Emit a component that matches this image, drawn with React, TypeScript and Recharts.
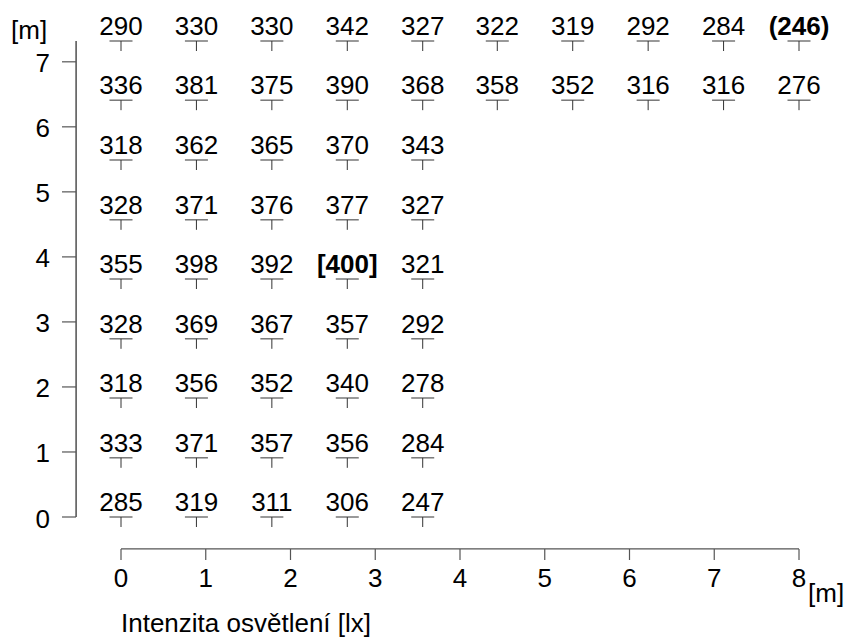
import React from 'react';
import { ScatterChart, Scatter, XAxis, YAxis, ReferenceLine } from 'recharts';

// Grid of measurement points (metres)
const xPositions = [0, 0.89, 1.78, 2.67, 3.56, 4.44, 5.33, 6.22, 7.11, 8.0];
const yPositions = [0, 0.91, 1.83, 2.74, 3.66, 4.57, 5.49, 6.41, 7.32];

// Illuminance values [lx], one array per row from bottom (y=0) to top
const row0 = [285, 319, 311, 306, 247];
const row1 = [333, 371, 357, 356, 284];
const row2 = [318, 356, 352, 340, 278];
const row3 = [328, 369, 367, 357, 292];
const row4 = [355, 398, 392, 400, 321];
const row5 = [328, 371, 376, 377, 327];
const row6 = [318, 362, 365, 370, 343];
const row7 = [336, 381, 375, 390, 368, 358, 352, 316, 316, 276];
const row8 = [290, 330, 330, 342, 327, 322, 319, 292, 284, 246];

const xTicks = [0, 1, 2, 3, 4, 5, 6, 7, 8];
const yTicks = [0, 1, 2, 3, 4, 5, 6, 7];

const xAxisTitle = 'Intenzita osvětlení [lx]';
const unitLabel = '[m]';

const rows = [row0, row1, row2, row3, row4, row5, row6, row7, row8];
const allValues = rows.flat();
const maxV = Math.max(...allValues);
const minV = Math.min(...allValues);

const points = rows.flatMap((r, ri) =>
  r.map((v, ci) => ({
    x: xPositions[ci],
    y: yPositions[ri],
    value: v,
    text: v === maxV ? `[${v}]` : v === minV ? `(${v})` : String(v),
    bold: v === maxV || v === minV,
  }))
);

const FONT = '"Liberation Sans", Arial, Helvetica, sans-serif';
const FS = 26;

// layout constants (pixels)
const Y_AXIS_X = 76;
const X_AXIS_Y = 549;

const Marker = (props: any) => {
  const { cx, cy, payload } = props;
  if (cx == null || cy == null) return null;
  return (
    <g>
      <line x1={cx - 11.5} y1={cy} x2={cx + 11.5} y2={cy} stroke="#555" strokeWidth={1.2} />
      <line x1={cx} y1={cy} x2={cx} y2={cy + 10} stroke="#333" strokeWidth={1} />
      <text
        x={cx}
        y={cy - 6}
        textAnchor="middle"
        fontFamily={FONT}
        fontSize={FS}
        fontWeight={payload.bold ? 'bold' : 'normal'}
        fill="#000"
      >
        {payload.text}
      </text>
    </g>
  );
};

const XTick = (props: any) => {
  const { x, payload } = props;
  return (
    <g>
      <line x1={x} y1={X_AXIS_Y} x2={x} y2={X_AXIS_Y + 11} stroke="#555" strokeWidth={1.2} />
      <text x={x} y={587} textAnchor="middle" fontFamily={FONT} fontSize={FS} fill="#000">
        {payload.value}
      </text>
    </g>
  );
};

const YTick = (props: any) => {
  const { y, payload } = props;
  return (
    <g>
      <line x1={Y_AXIS_X - 14} y1={y} x2={Y_AXIS_X} y2={y} stroke="#555" strokeWidth={1.2} />
      <text x={50} y={y + 10.5} textAnchor="end" fontFamily={FONT} fontSize={FS} fill="#000">
        {payload.value}
      </text>
    </g>
  );
};

export default function App() {
  return (
    <div style={{ position: 'absolute', left: 0, top: 0, width: 848, height: 637, background: '#fff' }}>
      <ScatterChart width={848} height={637} margin={{ top: 41, right: 49, bottom: 119, left: 120 }}>
        <XAxis
          type="number"
          dataKey="x"
          domain={[0, 8]}
          ticks={xTicks}
          interval={0}
          height={1}
          axisLine={false}
          tickLine={false}
          tick={<XTick />}
        />
        <YAxis
          type="number"
          dataKey="y"
          domain={[0, 7.32]}
          ticks={yTicks}
          interval={0}
          width={1}
          axisLine={false}
          tickLine={false}
          tick={<YTick />}
        />
        <ReferenceLine
          segment={[{ x: -0.53, y: 0 }, { x: -0.53, y: 7.32 }]}
          stroke="#222"
          strokeWidth={1.2}
          ifOverflow="visible"
        />
        <ReferenceLine
          segment={[{ x: 0, y: -0.49 }, { x: 8, y: -0.49 }]}
          stroke="#555"
          strokeWidth={1.2}
          ifOverflow="visible"
        />
        <Scatter data={points} shape={<Marker />} isAnimationActive={false} />
      </ScatterChart>
      <svg width={848} height={637} style={{ position: 'absolute', left: 0, top: 0, pointerEvents: 'none' }}>
        <text x={11} y={39} fontFamily={FONT} fontSize={FS} fill="#000">{unitLabel}</text>
        <text x={808} y={602} fontFamily={FONT} fontSize={FS} fill="#000">{unitLabel}</text>
        <text x={121} y={632} fontFamily={FONT} fontSize={FS} fill="#000">{xAxisTitle}</text>
      </svg>
    </div>
  );
}
